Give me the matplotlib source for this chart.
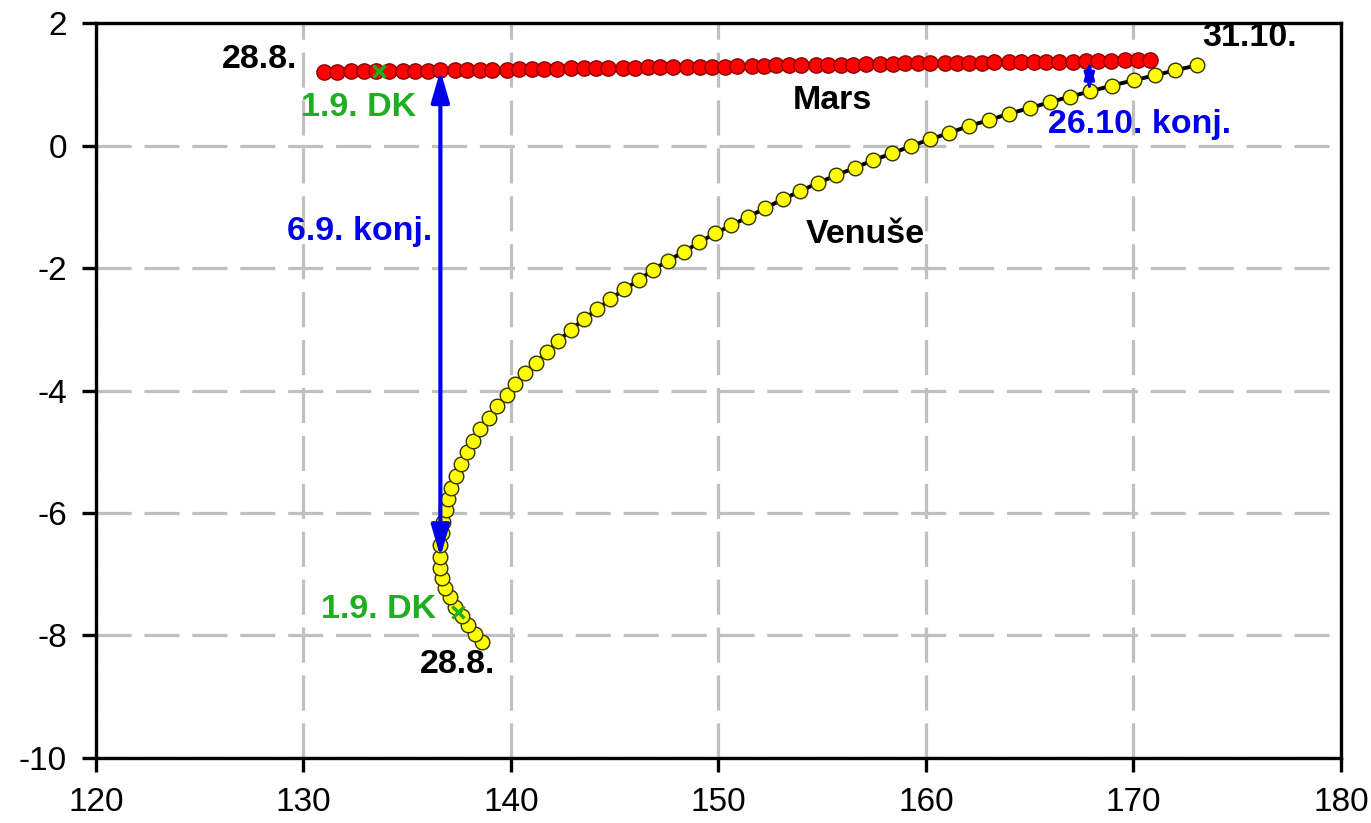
import matplotlib
matplotlib.use('Agg')
import matplotlib.pyplot as plt

plt.rcParams['font.family'] = ['Liberation Sans', 'DejaVu Sans']
plt.rcParams['axes.unicode_minus'] = False

# Mars path, one point per day 28.8. - 31.10.
mars_x = [131.0, 131.6, 132.3, 132.9, 133.5, 134.1, 134.8, 135.4, 136.0, 136.6,
          137.3, 137.9, 138.5, 139.1, 139.8, 140.4, 141.0, 141.6, 142.2, 142.9,
          143.5, 144.1, 144.7, 145.4, 146.0, 146.6, 147.2, 147.8, 148.5, 149.1,
          149.7, 150.3, 150.9, 151.6, 152.2, 152.8, 153.4, 154.0, 154.7, 155.3,
          155.9, 156.5, 157.1, 157.8, 158.4, 159.0, 159.6, 160.2, 160.9, 161.5,
          162.1, 162.7, 163.3, 164.0, 164.6, 165.2, 165.8, 166.4, 167.1, 167.7,
          168.3, 168.9, 169.6, 170.2, 170.8]
mars_y = [1.20, 1.20, 1.21, 1.21, 1.21, 1.22, 1.22, 1.22, 1.22, 1.23,
          1.23, 1.23, 1.24, 1.24, 1.24, 1.25, 1.25, 1.25, 1.25, 1.26,
          1.26, 1.26, 1.27, 1.27, 1.27, 1.28, 1.28, 1.28, 1.28, 1.29,
          1.29, 1.29, 1.30, 1.30, 1.30, 1.31, 1.31, 1.31, 1.31, 1.32,
          1.32, 1.32, 1.33, 1.33, 1.33, 1.34, 1.34, 1.34, 1.34, 1.35,
          1.35, 1.35, 1.36, 1.36, 1.36, 1.37, 1.37, 1.37, 1.37, 1.38,
          1.38, 1.38, 1.39, 1.39, 1.39]

# Venus path, same days
venus_x = [138.60, 138.27, 137.95, 137.63, 137.31, 137.04, 136.83, 136.67, 136.59, 136.56,
           136.60, 136.67, 136.75, 136.86, 136.99, 137.12, 137.34, 137.58, 137.87, 138.16,
           138.52, 138.92, 139.32, 139.79, 140.20, 140.68, 141.21, 141.76, 142.29, 142.89,
           143.50, 144.14, 144.78, 145.46, 146.15, 146.84, 147.57, 148.32, 149.07, 149.85,
           150.62, 151.45, 152.26, 153.09, 153.94, 154.80, 155.68, 156.56, 157.45, 158.36,
           159.28, 160.18, 161.13, 162.06, 163.02, 163.99, 165.00, 166.00, 166.96, 167.93,
           168.97, 170.01, 171.03, 172.03, 173.07]
venus_y = [-8.11, -7.97, -7.83, -7.68, -7.53, -7.37, -7.23, -7.06, -6.90, -6.72,
           -6.53, -6.33, -6.14, -5.95, -5.77, -5.59, -5.39, -5.20, -5.01, -4.82,
           -4.63, -4.45, -4.26, -4.07, -3.89, -3.71, -3.55, -3.37, -3.19, -3.01,
           -2.84, -2.675, -2.51, -2.35, -2.20, -2.03, -1.88, -1.74, -1.58, -1.435,
           -1.30, -1.165, -1.02, -0.88, -0.745, -0.61, -0.485, -0.365, -0.24, -0.13,
           -0.01, 0.10, 0.205, 0.32, 0.41, 0.52, 0.61, 0.71, 0.80, 0.885,
           0.98, 1.065, 1.145, 1.23, 1.31]

dk_day = 4       # 1.9.
konj_days = [9, 59]   # 6.9. and 26.10.

green = '#1fae1f'
blue = '#0000ee'

fig = plt.figure(figsize=(13.71, 8.23), dpi=100)
ax = fig.add_axes([0.070, 0.079, 0.908, 0.893])

ax.set_xlim(120, 180)
ax.set_ylim(-10, 2)
ax.set_xticks(range(120, 181, 10))
ax.set_yticks(range(-10, 3, 2))
ax.grid(True, color='#c0c0c0', linewidth=2.3, dashes=(11, 4))
ax.set_axisbelow(True)
for s in ax.spines.values():
    s.set_linewidth(2.4)
ax.tick_params(labelsize=24, width=2.4, length=10, pad=11, direction='out')

ax.plot(venus_x, venus_y, '-', color='black', linewidth=2.8, zorder=3,
        marker='o', markersize=10.5, markerfacecolor='#ffff00',
        markeredgecolor='#333300', markeredgewidth=1.0)
ax.plot(mars_x, mars_y, 'o', markersize=11, markerfacecolor='#ff0000',
        markeredgecolor='#8a0000', markeredgewidth=1.0, zorder=4)

# 1.9. markers
ax.plot(mars_x[dk_day] + 0.15, mars_y[dk_day], 'x', color=green, markersize=8, mew=2.5, zorder=5)
ax.plot(137.47, -7.61, 'x', color=green, markersize=8, mew=2.5, zorder=5)

# conjunction arrows
d = konj_days[0]
ax.annotate('', xy=(mars_x[d], mars_y[d]), xytext=(mars_x[d], venus_y[d]),
            arrowprops=dict(arrowstyle='<|-|>,head_length=1.9,head_width=0.55',
                            color=blue, lw=3, mutation_scale=10,
                            shrinkA=0, shrinkB=0), zorder=6)
d = konj_days[1]
ax.annotate('', xy=(167.88, mars_y[d]), xytext=(167.88, venus_y[d]),
            arrowprops=dict(arrowstyle='<|-|>,head_length=1.1,head_width=0.32',
                            color=blue, lw=2, mutation_scale=10,
                            shrinkA=0, shrinkB=0), zorder=6)

fs = 24.5
ax.text(129.7, 1.40, '28.8.', fontsize=fs, fontweight='bold', ha='right', va='center')
ax.text(129.9, 0.62, '1.9. DK', fontsize=fs, fontweight='bold', color=green, ha='left', va='center')
ax.text(153.6, 0.74, 'Mars', fontsize=fs, fontweight='bold', ha='left', va='center')
ax.text(173.3, 1.77, '31.10.', fontsize=fs, fontweight='bold', ha='left', va='center')
ax.text(165.9, 0.35, '26.10. konj.', fontsize=fs, fontweight='bold', color=blue, ha='left', va='center')
ax.text(136.2, -1.40, '6.9. konj.', fontsize=fs, fontweight='bold', color=blue, ha='right', va='center')
ax.text(154.2, -1.45, 'Venuše', fontsize=fs, fontweight='bold', ha='left', va='center')
ax.text(136.4, -7.58, '1.9. DK', fontsize=fs, fontweight='bold', color=green, ha='right', va='center')
ax.text(135.6, -8.48, '28.8.', fontsize=fs, fontweight='bold', ha='left', va='center')

fig.savefig('out.png', dpi=100)
